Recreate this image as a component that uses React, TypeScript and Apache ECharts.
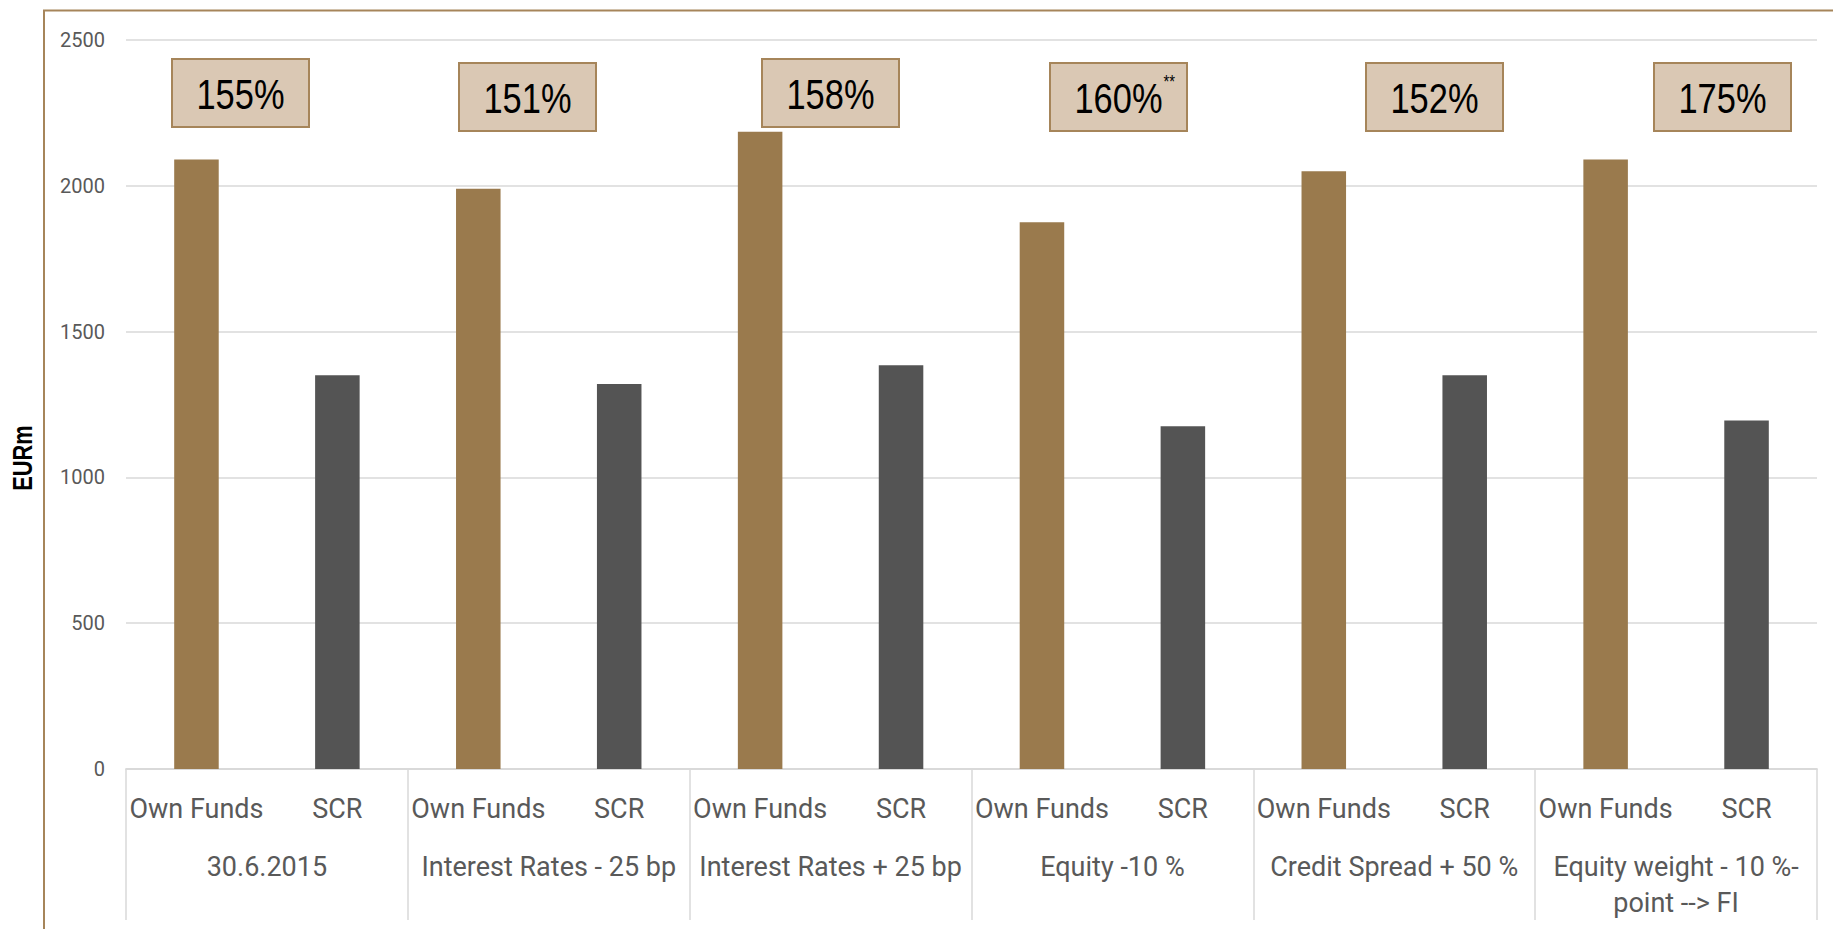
import React, { useEffect, useRef } from "react";
import * as echarts from "echarts";

// ---- data ----
const groups = [
  "30.6.2015",
  "Interest Rates - 25 bp",
  "Interest Rates + 25 bp",
  "Equity -10 %",
  "Credit Spread + 50 %",
  "Equity weight - 10 %-\npoint --> FI",
];
const seriesNames = ["Own Funds", "SCR"];
const ownFunds = [2090, 1990, 2185, 1875, 2050, 2090];
const scr = [1350, 1320, 1385, 1175, 1350, 1195];
const ratioLabels = ["155%", "151%", "158%", "160%", "152%", "175%"];
const ratioNotes = ["", "", "", "**", "", ""];
const yMin = 0;
const yMax = 2500;
const yInterval = 500;
const yAxisTitle = "EURm";

// ---- layout / style (not data) ----
const AXIS_FONT = "Roboto, 'Liberation Sans', sans-serif";
const NARROW_FONT = "'Liberation Sans', Arial, sans-serif";
const NARROW = 0.82;
const BOX_POS: [number, number][] = [
  [172, 59],
  [459, 63],
  [762, 59],
  [1050, 63],
  [1366, 63],
  [1654, 63],
];
const BOX_W = 137;
const BOX_H = 68;
const BROWN = "#9a7a4d";
const GREY = "#545454";
const FRAME = "#a6855a";
const GRID = "#d9d9d9";

export default function App() {
  const ref = useRef<HTMLDivElement>(null);

  useEffect(() => {
    if (!ref.current) return;
    const chart = echarts.init(ref.current, undefined, { renderer: "svg" });

    const subCats: string[] = [];
    const barData: any[] = [];
    groups.forEach((_, i) => {
      subCats.push(seriesNames[0], seriesNames[1]);
      barData.push({ value: ownFunds[i], itemStyle: { color: BROWN } });
      barData.push({ value: scr[i], itemStyle: { color: GREY } });
    });

    const graphics: any[] = [
      {
        type: "rect",
        shape: { x: 44, y: 10.5, width: 1900, height: 1000 },
        style: { fill: "none", stroke: FRAME, lineWidth: 2 },
        silent: true,
      },
      {
        type: "text",
        x: 21.5,
        y: 458,
        rotation: Math.PI / 2,
        scaleX: 0.78,
        style: {
          text: yAxisTitle,
          fontSize: 28,
          fontWeight: "bold",
          fontFamily: NARROW_FONT,
          fill: "#000",
          align: "center",
          verticalAlign: "middle",
        },
      },
    ];
    ratioLabels.forEach((lbl, i) => {
      const [bx, by] = BOX_POS[i];
      graphics.push({
        type: "rect",
        shape: { x: bx, y: by, width: BOX_W, height: BOX_H },
        style: { fill: "#dac8b4", stroke: FRAME, lineWidth: 2 },
      });
      graphics.push({
        type: "text",
        x: bx + BOX_W / 2,
        y: by + BOX_H / 2 + 1,
        scaleX: NARROW,
        style: {
          text: lbl,
          fontSize: 42,
          fontFamily: NARROW_FONT,
          fill: "#000",
          align: "center",
          verticalAlign: "middle",
        },
      });
      if (ratioNotes[i]) {
        graphics.push({
          type: "text",
          x: bx + BOX_W / 2 + 45,
          y: by + 9,
          scaleX: NARROW,
          style: {
            text: ratioNotes[i],
            fontSize: 18,
            fontFamily: NARROW_FONT,
            fill: "#000",
            align: "left",
            verticalAlign: "top",
          },
        });
      }
    });

    chart.setOption({
      animation: false,
      backgroundColor: "#fff",
      grid: { left: 126, right: 16, top: 40, bottom: 160, containLabel: false },
      xAxis: [
        {
          type: "category",
          data: subCats,
          position: "bottom",
          axisLine: { show: true, lineStyle: { color: GRID, width: 1.5 } },
          axisTick: { show: false },
          axisLabel: {
            interval: 0,
            margin: 22,
            fontSize: 27,
            lineHeight: 36,
            color: "#595959",
            fontFamily: AXIS_FONT,
          },
        },
        {
          type: "category",
          data: groups,
          position: "bottom",
          axisLine: { show: true, lineStyle: { color: GRID, width: 1.5 } },
          axisTick: {
            show: true,
            interval: 0,
            length: 151,
            lineStyle: { color: GRID, width: 1.5 },
          },
          axisLabel: {
            interval: 0,
            margin: 80,
            fontSize: 27,
            lineHeight: 36,
            color: "#595959",
            fontFamily: AXIS_FONT,
          },
        },
      ],
      yAxis: {
        type: "value",
        min: yMin,
        max: yMax,
        interval: yInterval,
        axisLine: { show: false },
        axisTick: { show: false },
        axisLabel: {
          fontSize: 20,
          margin: 21,
          color: "#595959",
          fontFamily: AXIS_FONT,
          formatter: (v: number) => String(v),
        },
        splitLine: { lineStyle: { color: GRID, width: 1.5 } },
      },
      series: [
        {
          type: "bar",
          xAxisIndex: 0,
          data: barData,
          barWidth: "31.6%",
        },
      ],
      graphic: graphics,
    });

    return () => chart.dispose();
  }, []);

  return (
    <div
      ref={ref}
      style={{ position: "absolute", left: 0, top: 0, width: 1833, height: 929 }}
    />
  );
}
